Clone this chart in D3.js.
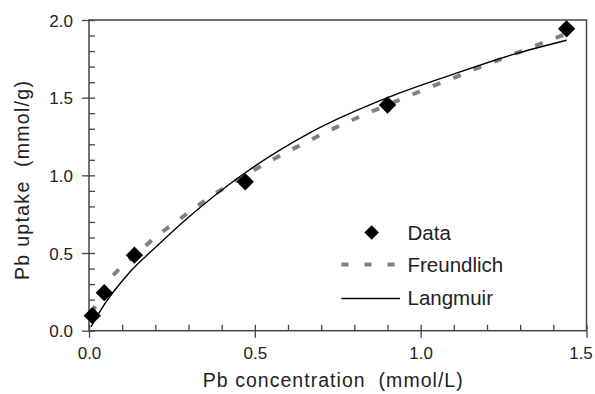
<!DOCTYPE html>
<html>
<head>
<meta charset="utf-8">
<script src="https://cdn.jsdelivr.net/npm/d3@7"></script>
<style>
  body { margin: 0; background: #fff; }
  svg text { font-family: "Liberation Sans", Arial, sans-serif; fill: #222; }
</style>
</head>
<body>
<script>
// ---- data ----
var dataC = [0.010, 0.046, 0.137, 0.471, 0.900, 1.440]
var dataQ = [0.097, 0.245, 0.486, 0.959, 1.453, 1.943]

var freundC = [0.010, 0.030, 0.053, 0.094, 0.151, 0.199, 0.254, 0.310, 0.365, 0.426, 0.484, 0.539, 0.599, 0.659, 0.717, 0.783, 0.846, 0.969, 1.034, 1.100, 1.163, 1.228, 1.291, 1.353, 1.417, 1.440]
var freundQ = [0.110, 0.220, 0.300, 0.405, 0.507, 0.601, 0.687, 0.777, 0.860, 0.943, 1.017, 1.084, 1.153, 1.217, 1.281, 1.346, 1.405, 1.515, 1.572, 1.627, 1.683, 1.737, 1.789, 1.840, 1.893, 1.910]

var langC = [0.006, 0.045, 0.081, 0.120, 0.200, 0.300, 0.470, 0.667, 0.900, 1.090, 1.290, 1.440]
var langQ = [0.025, 0.165, 0.270, 0.370, 0.535, 0.730, 1.015, 1.275, 1.500, 1.645, 1.785, 1.870]

var xMajor = [0, 0.5, 1.0, 1.5]
var yMajor = [0, 0.5, 1.0, 1.5, 2.0]
var legendNames = ["Data", "Freundlich", "Langmuir"]

// ---- chart ----
var W = 595, H = 394
var pL = 89, pR = 586.5, pT = 20, pB = 330.7
var axisCol = "#454545"

var svg = d3.select("body").append("svg").attr("width", W).attr("height", H)

var x = d3.scaleLinear().domain([0, 1.5]).range([pL, pR])
var y = d3.scaleLinear().domain([0, 2]).range([pB, pT])

var minorX = d3.range(0, 1.5001, 0.1)
var minorY = d3.range(0, 2.0001, 0.1)

// frame
svg.append("rect")
  .attr("x", pL).attr("y", pT)
  .attr("width", pR - pL).attr("height", pB - pT)
  .attr("fill", "none").attr("stroke", axisCol).attr("stroke-width", 1.5)

// inner ticks (minor + major)
var gxIn = svg.append("g").attr("transform", "translate(0," + pB + ")")
  .call(d3.axisBottom(x).tickValues(minorX).tickSize(-6).tickFormat(""))
var gyIn = svg.append("g").attr("transform", "translate(" + pL + ",0)")
  .call(d3.axisLeft(y).tickValues(minorY).tickSize(-6).tickFormat(""))

// outer major ticks with labels
var gx = svg.append("g").attr("transform", "translate(0," + pB + ")")
  .call(d3.axisBottom(x).tickValues(xMajor).tickSize(7).tickPadding(9).tickFormat(d3.format(".1f")))
var gy = svg.append("g").attr("transform", "translate(" + pL + ",0)")
  .call(d3.axisLeft(y).tickValues(yMajor).tickSize(7).tickPadding(9).tickFormat(d3.format(".1f")))

;[gxIn, gyIn, gx, gy].forEach(function(g) {
  g.select(".domain").remove()
  g.selectAll("line").attr("stroke", axisCol).attr("stroke-width", 1.3)
})
gx.selectAll("text").attr("font-size", 17).attr("fill", "#222")
gy.selectAll("text").attr("font-size", 17).attr("fill", "#222").attr("dy", "0.36em")
// last x label sits against the image edge
gx.selectAll("text").filter(function(d) { return d === 1.5 }).attr("dx", -6)

// axis titles
svg.append("text")
  .attr("x", (pL + pR) / 2 - 5).attr("y", 387)
  .attr("text-anchor", "middle").attr("font-size", 19.5)
  .attr("textLength", 260).attr("lengthAdjust", "spacing")
  .text("Pb concentration\u00a0\u00a0(mmol/L)")

svg.append("text")
  .attr("transform", "translate(29,180.5) rotate(-90)")
  .attr("text-anchor", "middle").attr("font-size", 19.5)
  .attr("textLength", 199).attr("lengthAdjust", "spacing")
  .text("Pb uptake\u00a0\u00a0(mmol/g)")

// curves
var line = d3.line()
  .x(function(d) { return x(d[0]) })
  .y(function(d) { return y(d[1]) })
  .curve(d3.curveMonotoneX)

svg.append("path")
  .datum(d3.zip(freundC, freundQ))
  .attr("d", line)
  .attr("fill", "none").attr("stroke", "#808080")
  .attr("stroke-width", 4).attr("stroke-dasharray", "8,14")

svg.append("path")
  .datum(d3.zip(langC, langQ))
  .attr("d", line)
  .attr("fill", "none").attr("stroke", "#000").attr("stroke-width", 1.4)

// data diamonds
var diamond = d3.symbol().type(d3.symbolSquare).size(150)
svg.selectAll(".pt")
  .data(d3.zip(dataC, dataQ))
  .enter().append("path")
  .attr("class", "pt")
  .attr("d", diamond)
  .attr("transform", function(d) { return "translate(" + x(d[0]) + "," + y(d[1]) + ") rotate(45)" })
  .attr("fill", "#000")

// legend
var lg = svg.append("g")
var rowY = [240, 272, 304.5]
lg.selectAll("text").data(legendNames).enter().append("text")
  .attr("x", 407.5).attr("y", function(d, i) { return rowY[i] })
  .attr("font-size", 20.5)
  .text(function(d) { return d })

lg.append("path")
  .attr("d", d3.symbol().type(d3.symbolSquare).size(105))
  .attr("transform", "translate(371.7,232.5) rotate(45)")
  .attr("fill", "#000")
lg.append("line")
  .attr("x1", 341.5).attr("x2", 396).attr("y1", 264.5).attr("y2", 264.5)
  .attr("stroke", "#808080").attr("stroke-width", 4).attr("stroke-dasharray", "7,16")
lg.append("line")
  .attr("x1", 341.5).attr("x2", 400).attr("y1", 298.5).attr("y2", 298.5)
  .attr("stroke", "#000").attr("stroke-width", 1.4)
</script>
</body>
</html>
